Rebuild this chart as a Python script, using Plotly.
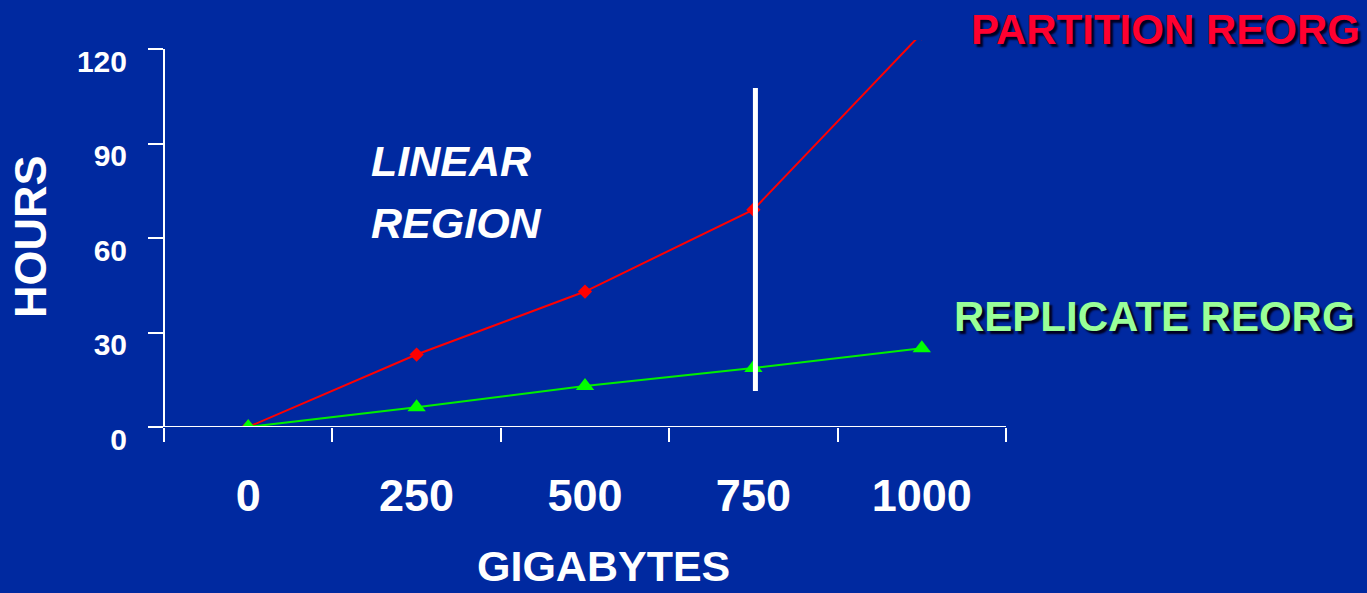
import plotly.graph_objects as go

# Reorganisation time versus database size
gigabytes = ["0", "250", "500", "750", "1000"]
partition_hours = [0, 23, 43, 69, 125]
replicate_hours = [0, 6.3, 13, 18.7, 25]
y_ticks = [0, 30, 60, 90, 120]
linear_region_end = "750"

BG = "#0029a0"
FONT = "Liberation Sans, Arial, sans-serif"

# plot area in pixels
L, R, T, B = 164, 1006, 40, 427
PW, PH = R - L, B - T


def px(x):
    return (x - L) / PW


def py(y):
    return (B - y) / PH


fig = go.Figure()

fig.add_trace(go.Scatter(
    x=gigabytes, y=partition_hours, mode="lines+markers",
    line=dict(color="#ff0000", width=2),
    marker=dict(symbol="diamond", size=11, color="#ff0000"),
    name="PARTITION REORG", showlegend=False,
))
fig.add_trace(go.Scatter(
    x=gigabytes, y=replicate_hours, mode="lines+markers",
    line=dict(color="#00ee00", width=2),
    marker=dict(symbol="triangle-up", size=16, color="#00ff00"),
    name="REPLICATE REORG", showlegend=False,
))

# end of the linear region
xi = gigabytes.index(linear_region_end) + 0.012
fig.add_shape(type="line", xref="x", yref="y",
              x0=xi, x1=xi, y0=11.4, y1=107.6,
              line=dict(color="white", width=5), layer="above")

# axis lines
fig.add_shape(type="line", xref="paper", yref="y", x0=0, x1=0, y0=0, y1=120,
              line=dict(color="white", width=2))
fig.add_shape(type="line", xref="paper", yref="y", x0=px(148), x1=1, y0=0, y1=0,
              line=dict(color="white", width=2))

for txt, yc in (("LINEAR", 161), ("REGION", 223)):
    fig.add_annotation(text=f"<i>{txt}</i>", xref="paper", yref="paper",
                       x=px(369), y=py(yc), xanchor="left", yanchor="middle",
                       showarrow=False,
                       font=dict(family=FONT, size=43, color="white", weight="bold"))

fig.add_annotation(text="PARTITION REORG", xref="paper", yref="paper",
                   x=px(1362), y=py(29), xanchor="right", yanchor="middle",
                   showarrow=False,
                   font=dict(family=FONT, size=42, color="#ff0030", weight="bold",
                             shadow="3px 3px 2px #000020"))
fig.add_annotation(text="REPLICATE REORG", xref="paper", yref="paper",
                   x=px(1357), y=py(316), xanchor="right", yanchor="middle",
                   showarrow=False,
                   font=dict(family=FONT, size=42, color="#99ff99", weight="bold",
                             shadow="3px 3px 2px #000020"))

fig.add_annotation(text="GIGABYTES", xref="paper", yref="paper",
                   x=px(603), y=py(566), xanchor="center", yanchor="middle",
                   showarrow=False,
                   font=dict(family=FONT, size=43, color="white", weight="bold"))
fig.add_annotation(text="HOURS", xref="paper", yref="paper", textangle=-90,
                   x=px(31), y=py(237), xanchor="center", yanchor="middle",
                   showarrow=False,
                   font=dict(family=FONT, size=45, color="white", weight="bold"))

fig.update_layout(
    width=1367, height=593,
    margin=dict(l=L, r=1367 - R, t=T, b=593 - B),
    paper_bgcolor=BG, plot_bgcolor=BG,
    xaxis=dict(
        type="category", range=[-0.5, 4.5], showgrid=False, zeroline=False, showline=False,
        ticks="outside", tickson="boundaries", ticklen=14, tickwidth=2, tickcolor="white",
        ticklabelstandoff=38,
        tickfont=dict(family=FONT, size=45, color="white", weight="bold"),
    ),
    yaxis=dict(
        range=[0, 120 * PH / (B - 49)], showgrid=False, zeroline=False, showline=False,
        tickmode="array", tickvals=y_ticks, ticktext=[str(v) for v in y_ticks],
        ticks="outside", ticklen=15, tickwidth=2, tickcolor="white",
        ticklabelstandoff=15, ticklabelshift=12,
        tickfont=dict(family=FONT, size=30, color="white", weight="bold"),
    ),
)

fig.write_html("out.html")
